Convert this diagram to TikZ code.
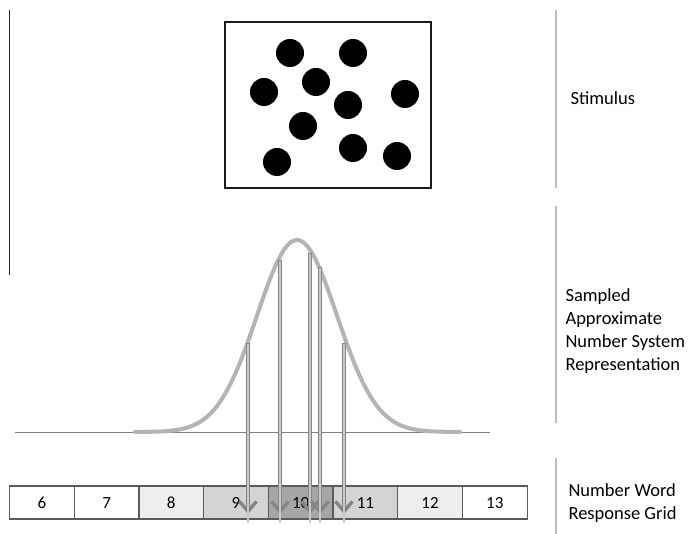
\documentclass[tikz,border=0pt]{standalone}
\usepackage{fontspec}
\setmainfont{Carlito}
\usetikzlibrary{arrows.meta}
\definecolor{barg}{HTML}{BDBDBD}
\definecolor{curveg}{HTML}{B4B4B4}
\definecolor{arrg}{HTML}{858585}
\definecolor{arrin}{HTML}{C8C8C8}
\definecolor{c8}{HTML}{EEEEEE}
\definecolor{c9}{HTML}{D4D4D4}
\definecolor{c10}{HTML}{A6A6A6}
\definecolor{gridline}{HTML}{5A5A5A}
\tikzset{
  dot/.style={circle, fill=black, minimum size=28pt, inner sep=0pt},
  cell/.style={draw=gridline, line width=1.2pt, minimum width=64.7pt, minimum height=33pt, inner sep=0pt, text height=11pt, text depth=0pt, font=\fontsize{17}{17}\selectfont},
  sidebar/.style={draw=barg, line width=2pt},
  lbl/.style={anchor=west, align=left, font=\fontsize{18.5}{23.2}\selectfont},
  arrshaft/.style={draw=arrg, line width=3.4pt, -{Straight Barb[length=10pt, width=17pt, line width=3.4pt]}},
  arrcore/.style={draw=arrin, line width=1.2pt},
}
\begin{document}
\begin{tikzpicture}[x=1pt, y=-1pt]
\useasboundingbox (0,0) rectangle (691,534);
% left black line
\draw[black!85, line width=1.5pt] (9.5,10) -- (9.5,275);
% stimulus box
\node[draw=black!90, line width=2pt, minimum width=206pt, minimum height=166pt, inner sep=0pt] (stim) at (328,105) {};
\node[dot] (d1) at (290,53) {};
\node[dot] (d2) at (353,53) {};
\node[dot] (d3) at (264,92) {};
\node[dot] (d4) at (316,82) {};
\node[dot] (d5) at (348,105) {};
\node[dot] (d6) at (405,94) {};
\node[dot] (d7) at (303,126) {};
\node[dot] (d8) at (353,148) {};
\node[dot] (d9) at (277,162) {};
\node[dot] (d10) at (397,156) {};
% right bars
\draw[sidebar] (556,10) -- (556,188);
\draw[sidebar] (556,206) -- (556,423);
\draw[sidebar] (556,458) -- (556,534);
% labels
\node[lbl] (l1) at (567,98) {Stimulus};
\node[lbl] (l2) at (562,331) {Sampled\\Approximate\\Number System\\Representation};
\node[lbl] (l3) at (565,503) {Number Word\\Response Grid};
% baseline
\draw[gray, line width=0.8pt] (15,432) -- (490,432);
% gaussian
\draw[curveg, line width=4pt, line cap=round] plot[domain=135:460, samples=120, smooth] (\x, {432 - 192*exp(-0.5*((\x-297)/40)^2)});
% grid
\node[cell] (g6) at (41.9,502.5) {6};
\node[cell] (g7) at (106.6,502.5) {7};
\node[cell, fill=c8] (g8) at (171.3,502.5) {8};
\node[cell, fill=c9] (g9) at (236.0,502.5) {9};
\node[cell, fill=c10] (g10) at (300.7,502.5) {10};
\node[cell, fill=c9] (g11) at (365.4,502.5) {11};
\node[cell, fill=c8] (g12) at (430.1,502.5) {12};
\node[cell] (g13) at (494.8,502.5) {13};
% sample arrows
\foreach \i/\x/\t in {1/248/343, 2/280/260, 3/310/253, 4/320/267, 5/344/343} {
  \coordinate (s\i) at (\x,\t);
  \coordinate (e\i) at (\x,514);
  \draw[arrshaft] (s\i) -- (e\i);
  \draw[arrcore] ([yshift=-1pt]s\i) -- ([yshift=-9pt]e\i);
}
\end{tikzpicture}
\end{document}
